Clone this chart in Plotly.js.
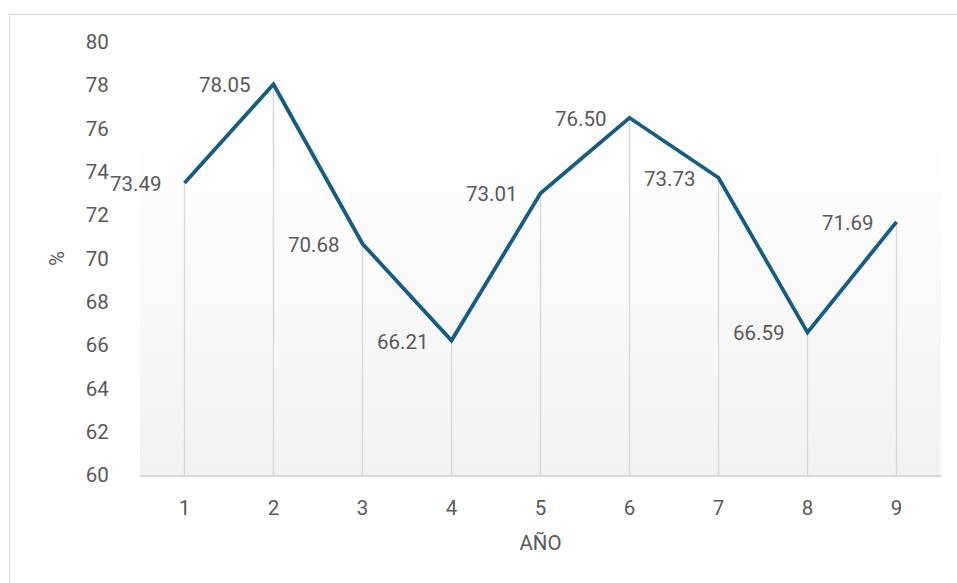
<!DOCTYPE html>
<html><head><meta charset="utf-8">
<script src="https://cdn.plot.ly/plotly-3.0.1.min.js"></script>
<style>
html,body{margin:0;padding:0;background:#fff;}
#wrap{position:relative;width:957px;height:583px;}
#frame{position:absolute;left:9px;top:14px;width:960px;height:580px;border:1px solid #d9d9d9;box-sizing:border-box;}
#bg{position:absolute;left:140px;top:42px;width:801px;height:433px;background:linear-gradient(to bottom,#ffffff 0%,#ffffff 20%,#f2f2f2 100%);}
#chart{position:absolute;left:0;top:0;width:957px;height:583px;}
</style></head>
<body><div id="wrap"><div id="frame"></div><div id="bg"></div><div id="chart"></div></div>
<script>
const years = [1,2,3,4,5,6,7,8,9];
const values = [73.49,78.05,70.68,66.21,73.01,76.50,73.73,66.59,71.69];
const yMin = 60, yMax = 80;

const dropX = [], dropY = [];
years.forEach((c,i)=>{dropX.push(c,c,null);dropY.push(yMin,values[i],null);});

const font = {family:"Roboto, 'Noto Sans', sans-serif", size:20.5, color:"#595959"};

const traces = [
 {x:dropX,y:dropY,mode:"lines",line:{color:"#d9d9d9",width:1.5},hoverinfo:"skip",showlegend:false,cliponaxis:false},
 {x:years,y:values,mode:"lines",line:{color:"#185d80",width:3.8},showlegend:false,cliponaxis:false}
];

const annotations = years.map((c,i)=>({x:c,y:values[i],xref:"x",yref:"y",text:values[i].toFixed(2),
  showarrow:false,xanchor:"right",yanchor:"middle",xshift:-21,yshift:-1,font:font}));

const layout = {
 width:957,height:583,margin:{l:140,r:16,t:42,b:108},
 paper_bgcolor:"rgba(0,0,0,0)",plot_bgcolor:"rgba(0,0,0,0)",
 font:font,showlegend:false,
 xaxis:{range:[0.5,9.5],dtick:1,tick0:1,showgrid:false,zeroline:false,showline:true,linecolor:"#d9d9d9",linewidth:1.5,
   ticks:"outside",ticklen:14,tickcolor:"rgba(0,0,0,0)",tickfont:font,
   title:{text:"AÑO",font:font,standoff:16}},
 yaxis:{range:[yMin,yMax],dtick:2,showgrid:false,zeroline:false,showline:false,
   ticks:"outside",ticklen:26,tickcolor:"rgba(0,0,0,0)",tickfont:font,
   title:{text:"%",font:font,standoff:15}},
 annotations:annotations
};
Plotly.newPlot("chart",traces,layout,{displayModeBar:false,staticPlot:true});
</script></body></html>
